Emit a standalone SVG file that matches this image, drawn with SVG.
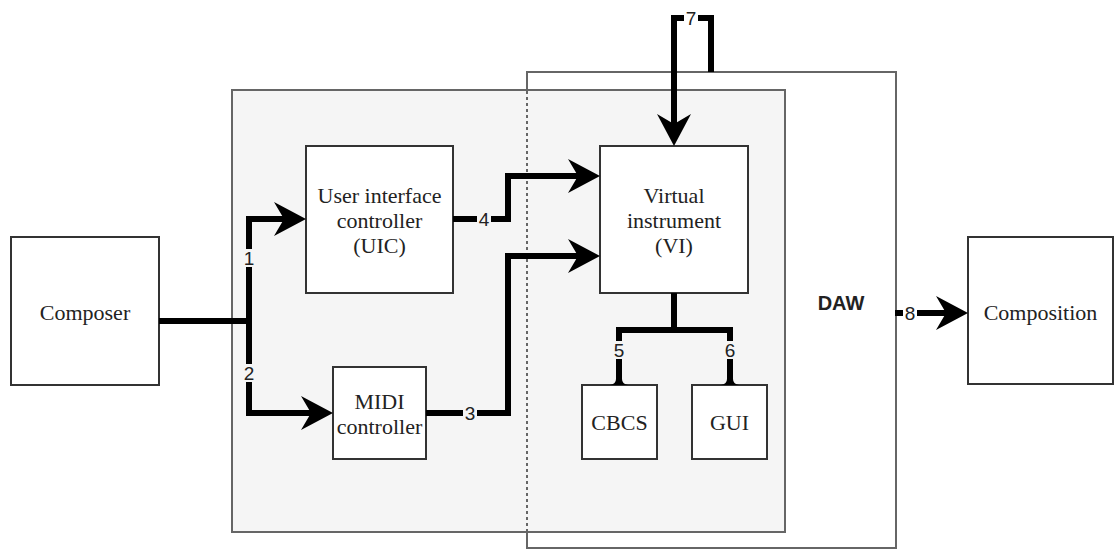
<svg xmlns="http://www.w3.org/2000/svg" width="1114" height="549" viewBox="0 0 1114 549">
<style>
.box{fill:#ffffff;stroke:#333333;stroke-width:2}
.cont{fill:#f5f5f5;stroke:#666666;stroke-width:2}
.daw{fill:#ffffff;stroke:#666666;stroke-width:2}
.t{font-family:"Liberation Serif","Times New Roman",serif;font-size:22px;fill:#222222;text-anchor:middle}
.lbl{font-family:"Liberation Sans",Arial,sans-serif;font-size:19px;fill:#222222;text-anchor:middle}
.dawt{font-family:"Liberation Sans",Arial,sans-serif;font-size:20px;font-weight:bold;fill:#222222;text-anchor:middle}
.c{fill:none;stroke:#000000;stroke-width:6;stroke-linejoin:miter;stroke-linecap:butt}
.ca{fill:none;stroke:#000000;stroke-width:6;stroke-linejoin:miter;stroke-linecap:butt;marker-end:url(#arr)}
.bgg{fill:#f5f5f5}
.bgw{fill:#ffffff}
</style>
<defs>
<marker id="arr" viewBox="0 0 32 34" refX="10" refY="17" markerWidth="32" markerHeight="34" orient="auto" markerUnits="userSpaceOnUse">
<path d="M0 0 L32 17 L0 34 L10 17 Z" fill="#000000"/>
</marker>
<path id="bell" d="M-3 -10 L3 -10 L3 -6 Q3 -1 9 0 L-9 0 Q-3 -1 -3 -6 Z" fill="#000000"/>
</defs>
<g id="daw">
<rect class="daw" x="527" y="72" width="369" height="476"/>
</g>
<g id="container">
<rect class="cont" x="232" y="90" width="553" height="442"/>
<line x1="527" y1="91" x2="527" y2="531" stroke="#666666" stroke-width="2" stroke-dasharray="3 3"/>
</g>
<g id="daw-label">
<text class="dawt" x="841" y="310">DAW</text>
</g>
<g id="composer">
<rect class="box" x="11" y="237" width="148" height="148"/>
<text class="t" x="85" y="320">Composer</text>
</g>
<g id="uic">
<rect class="box" x="306" y="146" width="147" height="147"/>
<text class="t" x="379.5" y="203">User interface</text>
<text class="t" x="379.5" y="228">controller</text>
<text class="t" x="379.5" y="253">(UIC)</text>
</g>
<g id="midi">
<rect class="box" x="333" y="367" width="93" height="92"/>
<text class="t" x="379.5" y="409">MIDI</text>
<text class="t" x="379.5" y="434">controller</text>
</g>
<g id="vi">
<rect class="box" x="600" y="146" width="148" height="147"/>
<text class="t" x="674" y="203">Virtual</text>
<text class="t" x="674" y="228">instrument</text>
<text class="t" x="674" y="253">(VI)</text>
</g>
<g id="cbcs">
<rect class="box" x="582" y="385" width="75" height="74"/>
<text class="t" x="619.5" y="430">CBCS</text>
</g>
<g id="gui">
<rect class="box" x="692" y="385" width="75" height="74"/>
<text class="t" x="729.5" y="430">GUI</text>
</g>
<g id="composition">
<rect class="box" x="968" y="237" width="145" height="147"/>
<text class="t" x="1040.5" y="320">Composition</text>
</g>
<g id="connectors">
<path class="c" d="M159 321 H249"/>
<path class="ca" d="M249 321 V219 H284"/>
<path class="ca" d="M249 321 V413 H311"/>
<path class="ca" d="M453 219 H508 V176 H578"/>
<path class="ca" d="M426 413 H508 V256 H578"/>
<path class="ca" d="M711 72 V18 H674 V124"/>
<path class="ca" d="M895 313 H946"/>
<path class="c" d="M674 293 V330"/>
<path class="c" d="M616 330 H733"/>
<path class="c" d="M619 327 V376"/>
<path class="c" d="M730 327 V376"/>
<use href="#bell" x="619" y="385"/>
<use href="#bell" x="730" y="385"/>
<rect class="bgg" x="242" y="249" width="14" height="18"/>
<text class="lbl" x="249" y="265">1</text>
<rect class="bgg" x="242" y="364" width="14" height="18"/>
<text class="lbl" x="249" y="380">2</text>
<rect class="bgg" x="463" y="404" width="14" height="18"/>
<text class="lbl" x="470" y="420">3</text>
<rect class="bgg" x="477" y="210" width="14" height="18"/>
<text class="lbl" x="484" y="226">4</text>
<rect class="bgg" x="612" y="341" width="14" height="18"/>
<text class="lbl" x="619" y="357">5</text>
<rect class="bgg" x="723" y="341" width="14" height="18"/>
<text class="lbl" x="730" y="357">6</text>
<rect class="bgw" x="684" y="9" width="14" height="18"/>
<text class="lbl" x="691" y="25">7</text>
<rect class="bgw" x="903" y="304" width="14" height="18"/>
<text class="lbl" x="910" y="320">8</text>
</g>
</svg>
